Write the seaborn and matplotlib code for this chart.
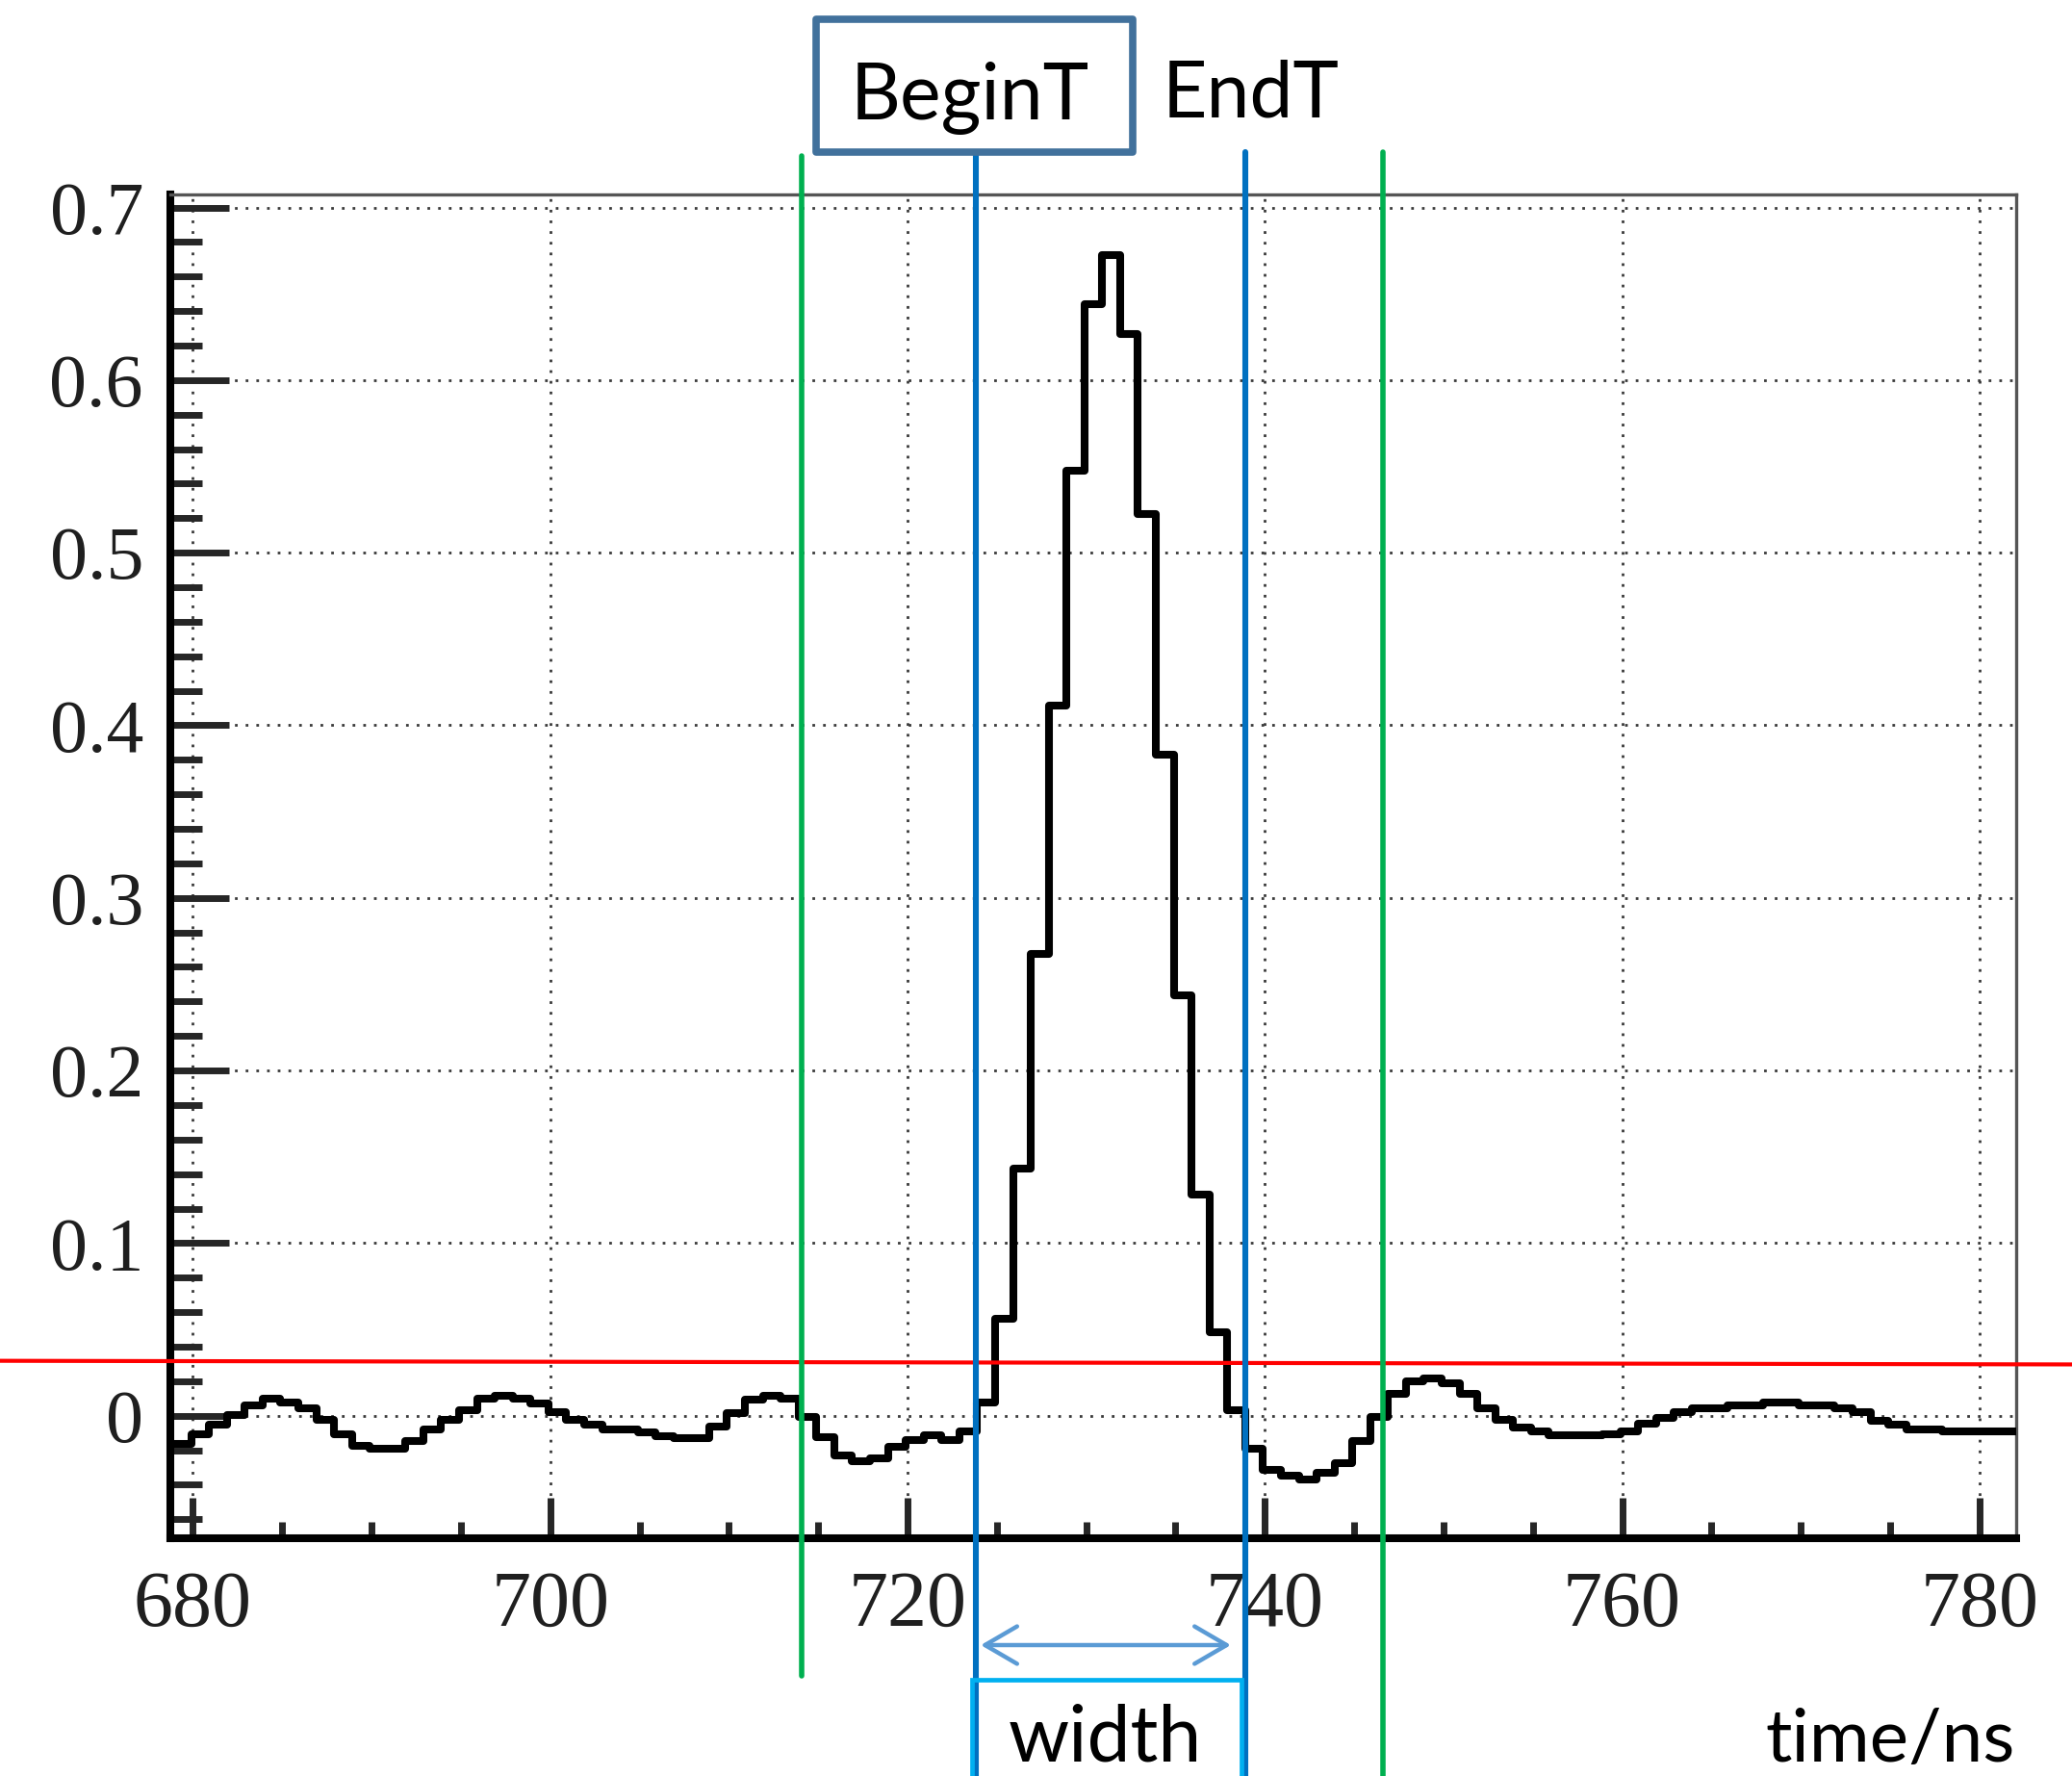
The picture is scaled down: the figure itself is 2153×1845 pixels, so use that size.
import numpy as np
import pandas as pd
import matplotlib
matplotlib.use("Agg")
import matplotlib.pyplot as plt
import seaborn as sns
from matplotlib.transforms import blended_transform_factory
from matplotlib.patches import Rectangle, FancyArrowPatch
from matplotlib.lines import Line2D
from matplotlib.ticker import MultipleLocator

# ---------------------------------------------------------------------------
# Digitised pulse waveform: 1 ns samples starting at 678.9 ns
# ---------------------------------------------------------------------------
bin_start = 678.9
bin_width = 1.0
amplitude = [
    -0.0164, -0.0108, -0.0052, 0.0004, 0.0060, 0.0097, 0.0078, 0.0041,
    -0.0024, -0.0108, -0.0173, -0.0192, -0.0192, -0.0145, -0.0080, -0.0024,
    0.0032, 0.0097, 0.0115, 0.0097, 0.0073, 0.0022, -0.0024, -0.0052,
    -0.0080, -0.0080, -0.0099, -0.0117, -0.0130, -0.0130, -0.0061, 0.0013,
    0.0093, 0.0115, 0.0097, -0.0006, -0.0126, -0.0229, -0.0266, -0.0247,
    -0.0182, -0.0140, -0.0112, -0.0140, -0.0089, 0.0074, 0.0562, 0.1433,
    0.2673, 0.4113, 0.5473, 0.6440, 0.6725, 0.6267, 0.5224, 0.3830,
    0.2436, 0.1280, 0.0484, 0.0030, -0.0192, -0.0312, -0.0350, -0.0368,
    -0.0331, -0.0275, -0.0145, -0.0006, 0.0125, 0.0199, 0.0218, 0.0190,
    0.0125, 0.0041, -0.0024, -0.0071, -0.0093, -0.0112, -0.0112, -0.0112,
    -0.0105, -0.0093, -0.0048, -0.0011, 0.0022, 0.0041, 0.0041, 0.0060,
    0.0060, 0.0078, 0.0078, 0.0060, 0.0060, 0.0041, 0.0022, -0.0030,
    -0.0052, -0.0080, -0.0080, -0.0093, -0.0093, -0.0093, -0.0093, -0.0093,
]

x_ticks = [680, 700, 720, 740, 760, 780]
x_tick_labels = ["680", "700", "720", "740", "760", "780"]
y_ticks = [0.0, 0.1, 0.2, 0.3, 0.4, 0.5, 0.6, 0.7]
y_tick_labels = ["0", "0.1", "0.2", "0.3", "0.4", "0.5", "0.6", "0.7"]
x_range = (678.72, 782.06)
y_range = (-0.071, 0.7077)

# Pulse markers (ns) and the discrimination threshold
begin_t = 723.8
end_t = 738.9
window_lo = 714.1
window_hi = 746.6
threshold_ends = [0.0318, 0.0297]   # level at the left / right edge of the page

# ---------------------------------------------------------------------------
sns.set_style("ticks")
plt.rcParams["font.family"] = ["Liberation Serif", "DejaVu Serif"]

W, H = 2153, 1845
DPI = 100
fig = plt.figure(figsize=(W / DPI, H / DPI), dpi=DPI)
fig.patch.set_facecolor("white")


def fx(px):
    return px / W


def fy(py):
    return 1.0 - py / H


ax = fig.add_axes([fx(176.7), fy(1598), fx(2095) - fx(176.7), fy(201.7) - fy(1598)])
ax.set_facecolor("white")

# Histogram outline as a step line over the bin edges
edges = bin_start + bin_width * np.arange(len(amplitude) + 1)
df = pd.DataFrame({"time": edges, "amplitude": amplitude + [amplitude[-1]]})
sns.lineplot(data=df, x="time", y="amplitude", drawstyle="steps-post",
             estimator=None, sort=False, color="black", linewidth=5.8,
             ax=ax, zorder=3)

ax.set_xlim(*x_range)
ax.set_ylim(*y_range)
ax.set_xlabel("")
ax.set_ylabel("")

ax.set_xticks(x_ticks)
ax.set_xticklabels(x_tick_labels)
ax.set_yticks(y_ticks)
ax.set_yticklabels(y_tick_labels)
ax.xaxis.set_minor_locator(MultipleLocator(5))
ax.yaxis.set_minor_locator(MultipleLocator(0.02))

# ROOT-like frame: heavy axes, light frame, ticks inside
for side in ("left", "bottom"):
    ax.spines[side].set_linewidth(5.8)
    ax.spines[side].set_color("black")
for side in ("top", "right"):
    ax.spines[side].set_linewidth(2.4)
    ax.spines[side].set_color("#555555")
    ax.spines[side].set_visible(True)

ax.tick_params(axis="y", which="major", direction="in", length=44, width=5,
               pad=20, labelsize=56, labelcolor="#1f1f1f", right=False)
ax.tick_params(axis="y", which="minor", direction="in", length=24, width=5, right=False)
ax.tick_params(axis="x", which="major", direction="in", length=30, width=5,
               pad=24, labelsize=59, labelcolor="#1f1f1f", top=False)
ax.tick_params(axis="x", which="minor", direction="in", length=12, width=5, top=False)

ax.set_axisbelow(True)
ax.grid(True, which="major", linestyle=(0, (1, 3)), color="#3a3a3a", linewidth=2.0)

# ---------------------------------------------------------------------------
# Overlay: threshold, integration window, pulse start/end and width
# ---------------------------------------------------------------------------
data_x_fig_y = blended_transform_factory(ax.transData, fig.transFigure)
fig_x_data_y = blended_transform_factory(fig.transFigure, ax.transData)

fig.add_artist(Line2D([0, 1], threshold_ends, transform=fig_x_data_y,
                      color="#ff0000", linewidth=3.0, zorder=5))

green = "#00b050"
blue = "#0070c0"
fig.add_artist(Line2D([window_lo, window_lo], [fy(162), fy(1741)],
                      transform=data_x_fig_y, color=green, linewidth=4.0, zorder=6))
fig.add_artist(Line2D([window_hi, window_hi], [fy(158), fy(1850)],
                      transform=data_x_fig_y, color=green, linewidth=4.0, zorder=6))
fig.add_artist(Line2D([begin_t, begin_t], [fy(160), fy(1850)],
                      transform=data_x_fig_y, color=blue, linewidth=4.4, zorder=6))
fig.add_artist(Line2D([end_t, end_t], [fy(158), fy(1850)],
                      transform=data_x_fig_y, color=blue, linewidth=4.4, zorder=6))

fig.add_artist(FancyArrowPatch((begin_t + 0.3, fy(1709)), (end_t - 0.8, fy(1709)),
                               transform=data_x_fig_y,
                               arrowstyle="<->,head_length=1.2,head_width=0.7",
                               mutation_scale=20, shrinkA=0, shrinkB=0,
                               color="#5b9bd5", linewidth=3.2, zorder=7))

label_font = ["Lato", "DejaVu Sans"]

fig.add_artist(Rectangle((fx(848), fy(158)), fx(1177) - fx(848), fy(20) - fy(158),
                         transform=fig.transFigure, fill=True, facecolor="white",
                         edgecolor="#41719c", linewidth=5.5, joinstyle="round", zorder=8))
fig.text(fx(1008), fy(124), "BeginT", family=label_font, fontsize=58,
         ha="center", va="baseline", color="black", zorder=9)
fig.text(fx(1208), fy(121), "EndT", family=label_font, fontsize=58,
         ha="left", va="baseline", color="black", zorder=9)

fig.add_artist(Rectangle((fx(1010), fy(1950)), fx(1290) - fx(1010), fy(1745) - fy(1950),
                         transform=fig.transFigure, fill=False,
                         edgecolor="#00b0f0", linewidth=3.4, zorder=8))
fig.text(fx(1148), fy(1843), "width", family=label_font, fontsize=58,
         ha="center", va="bottom", color="black", zorder=9)
fig.text(fx(2094), fy(1843), "time/ns", family=label_font, fontsize=55,
         ha="right", va="bottom", color="black", zorder=9)

fig.savefig("out.png", dpi=DPI, facecolor="white")
